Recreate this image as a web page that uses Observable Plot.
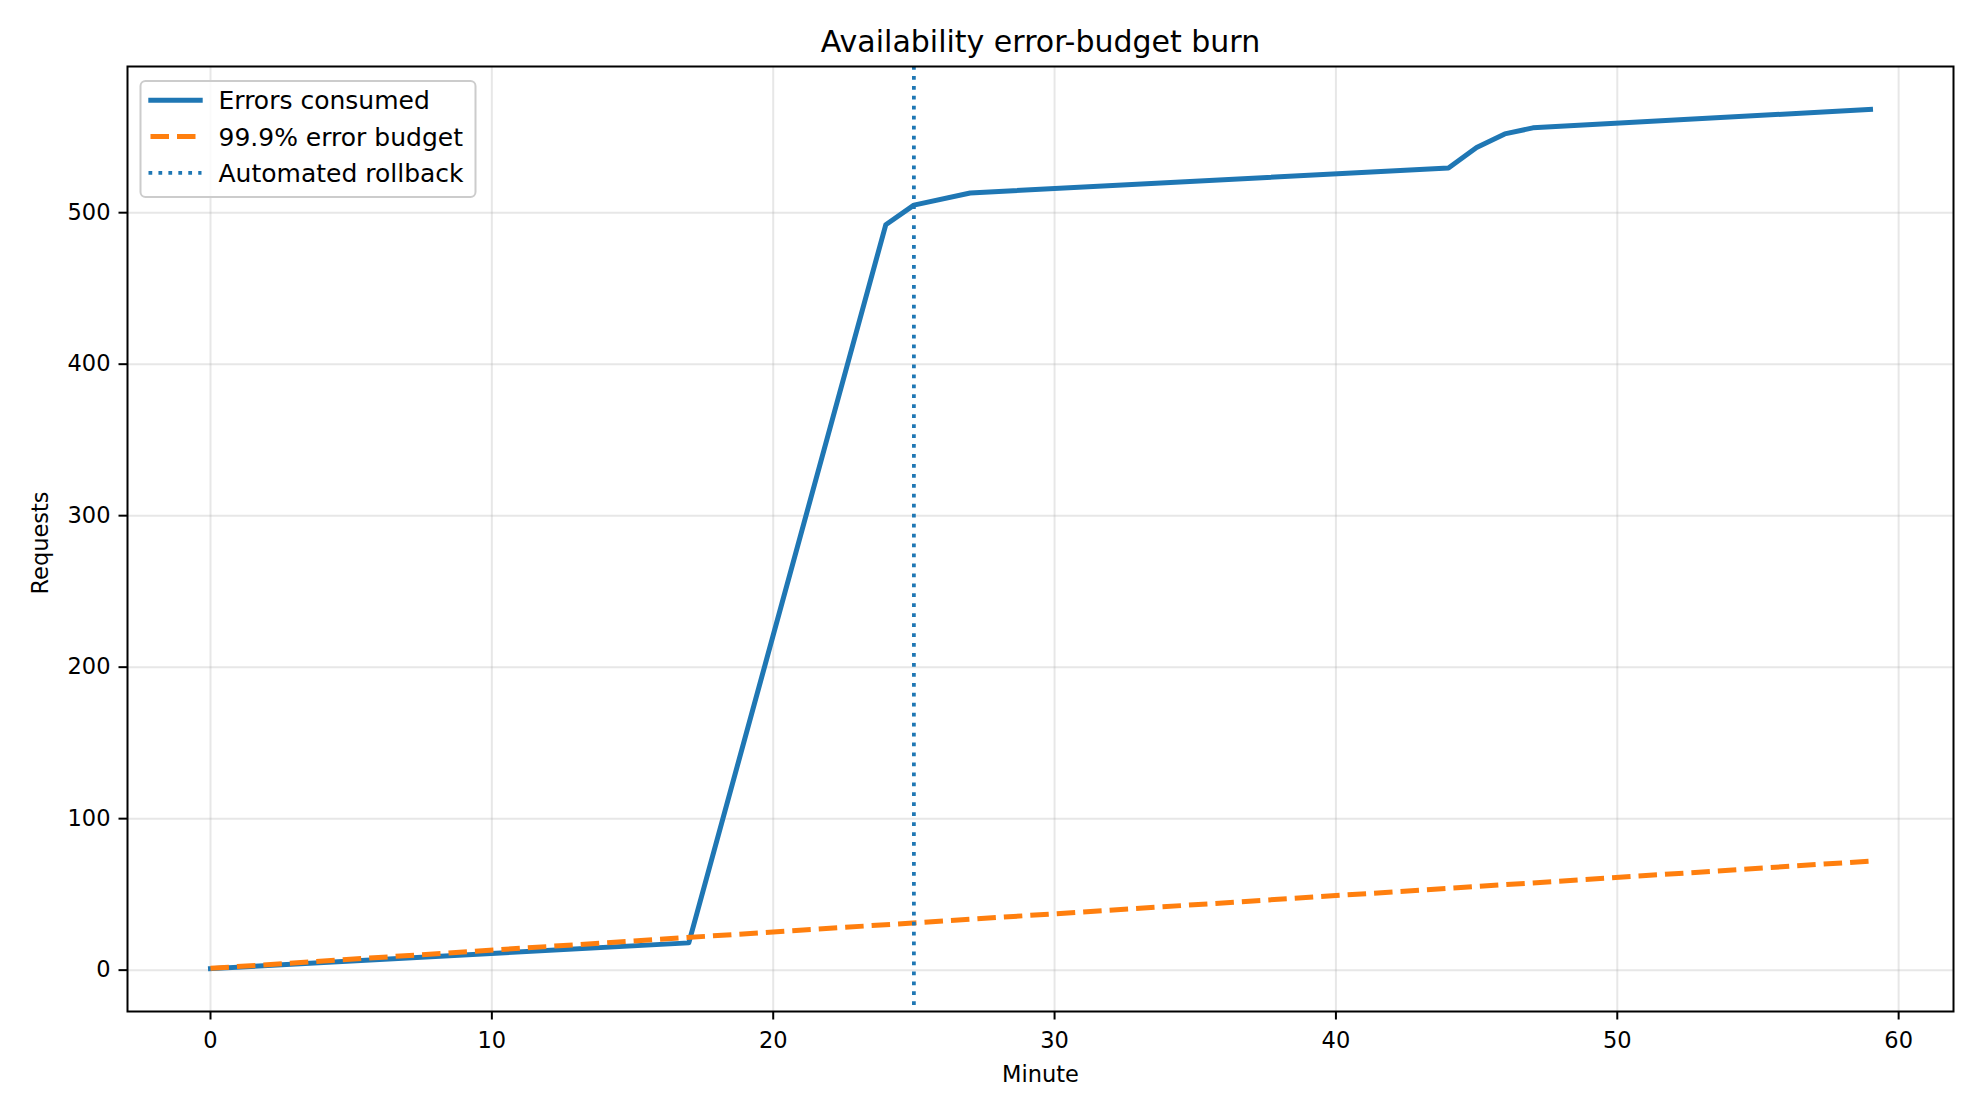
<!DOCTYPE html>
<html>
<head>
<meta charset="utf-8">
<script src="https://cdn.jsdelivr.net/npm/d3@7"></script>
<script src="https://cdn.jsdelivr.net/npm/@observablehq/plot@0.6"></script>
<style>
html, body { margin: 0; padding: 0; background: #fff; }
#wrap { position: relative; width: 1980px; height: 1116px; overflow: hidden; font-family: "DejaVu Sans", sans-serif; }
#legend { position: absolute; left: 0; top: 0; pointer-events: none; }
</style>
</head>
<body>
<div id="wrap"></div>
<script>
// ---- data ----
const title = "Availability error-budget burn";
const xLabel = "Minute";
const yLabel = "Requests";

const errorMinutes = [0, 17, 24, 25, 27, 44, 45, 46, 47, 59];
const errorsConsumed = [1, 18, 492, 505, 513, 529.5, 543, 552, 556, 568.2];

const budgetMinutes = [0, 59];
const errorBudget = [1.2, 72];

const rollbackMinute = [25];

const xTicks = [0, 10, 20, 30, 40, 50, 60];
const yTicks = [0, 100, 200, 300, 400, 500];

const seriesNames = ["Errors consumed", "99.9% error budget", "Automated rollback"];

// ---- tables ----
const errorRows = errorMinutes.map((m, i) => ({minute: m, value: errorsConsumed[i]}));
const budgetRows = budgetMinutes.map((m, i) => ({minute: m, value: errorBudget[i]}));

const BLUE = "#1f77b4", ORANGE = "#ff7f0e";
const FONT = '"DejaVu Sans", sans-serif';

const chart = Plot.plot({
  width: 1980,
  height: 1116,
  marginLeft: 127,
  marginRight: 27,
  marginTop: 66,
  marginBottom: 105,
  style: {fontFamily: FONT, background: "white", color: "black", overflow: "visible"},
  x: {domain: [-2.95, 61.95], axis: null},
  y: {domain: [-27.3, 596.5], axis: null},
  marks: [
    Plot.gridX({ticks: xTicks, stroke: "#b0b0b0", strokeOpacity: 0.3, strokeWidth: 2}),
    Plot.gridY({ticks: yTicks, stroke: "#b0b0b0", strokeOpacity: 0.3, strokeWidth: 2}),
    Plot.line(errorRows, {x: "minute", y: "value", stroke: BLUE, strokeWidth: 5,
      strokeLinejoin: "round", strokeLinecap: "square"}),
    Plot.line(budgetRows, {x: "minute", y: "value", stroke: ORANGE, strokeWidth: 5,
      strokeDasharray: "18.5,8", strokeLinecap: "butt"}),
    Plot.ruleX(rollbackMinute, {stroke: BLUE, strokeWidth: 3.75, strokeDasharray: "3.75,6.2"}),
    Plot.frame({stroke: "black", strokeWidth: 2}),
    Plot.axisX({ticks: xTicks, tickSize: 8.5, tickPadding: 12, fontSize: 22.5,
      strokeWidth: 2, label: null, tickFormat: d => String(d)}),
    Plot.axisY({ticks: yTicks, tickSize: 8.5, tickPadding: 8.5, fontSize: 22.5,
      strokeWidth: 2, label: null, tickFormat: d => String(d)}),
    Plot.text([title], {frameAnchor: "top", textAnchor: "middle", lineAnchor: "bottom", dy: -14.5,
      fontSize: 30, fill: "black"}),
    Plot.text([xLabel], {frameAnchor: "bottom", textAnchor: "middle", lineAnchor: "bottom", dy: 70,
      fontSize: 22.5, fill: "black"}),
    Plot.text([yLabel], {frameAnchor: "left", textAnchor: "middle", lineAnchor: "bottom", rotate: -90,
      dx: -80, dy: 4, fontSize: 22.5, fill: "black"})
  ]
});

const wrap = document.getElementById("wrap");
wrap.appendChild(chart);

// ---- legend (overlay) ----
const ns = "http://www.w3.org/2000/svg";
const leg = document.createElementNS(ns, "svg");
leg.setAttribute("id", "legend");
leg.setAttribute("width", 520);
leg.setAttribute("height", 240);
const styles = [
  {stroke: BLUE, width: 5, dash: null, cap: "square", x1: 150.8, x2: 200.2},
  {stroke: ORANGE, width: 5, dash: "18.5,8", cap: "butt", x1: 150.5, x2: 200.5},
  {stroke: BLUE, width: 3.75, dash: "3.75,6.2", cap: "butt", x1: 148.5, x2: 201.5}
];
const box = document.createElementNS(ns, "rect");
box.setAttribute("x", 140.5); box.setAttribute("y", 81);
box.setAttribute("width", 335); box.setAttribute("height", 116);
box.setAttribute("rx", 5); box.setAttribute("ry", 5);
box.setAttribute("fill", "white"); box.setAttribute("fill-opacity", 0.8);
box.setAttribute("stroke", "#cccccc"); box.setAttribute("stroke-width", 2);
leg.appendChild(box);
const rowY = [100.3, 136.6, 172.8];
seriesNames.forEach((name, i) => {
  const s = styles[i];
  const ln = document.createElementNS(ns, "line");
  ln.setAttribute("x1", s.x1); ln.setAttribute("x2", s.x2);
  ln.setAttribute("y1", rowY[i]); ln.setAttribute("y2", rowY[i]);
  ln.setAttribute("stroke", s.stroke); ln.setAttribute("stroke-width", s.width);
  ln.setAttribute("stroke-linecap", s.cap);
  if (s.dash) ln.setAttribute("stroke-dasharray", s.dash);
  leg.appendChild(ln);
  const tx = document.createElementNS(ns, "text");
  tx.setAttribute("x", 218.5);
  tx.setAttribute("y", rowY[i] + 9);
  tx.setAttribute("font-family", FONT);
  tx.setAttribute("font-size", 25);
  tx.setAttribute("fill", "black");
  tx.textContent = name;
  leg.appendChild(tx);
});
wrap.appendChild(leg);
</script>
</body>
</html>
